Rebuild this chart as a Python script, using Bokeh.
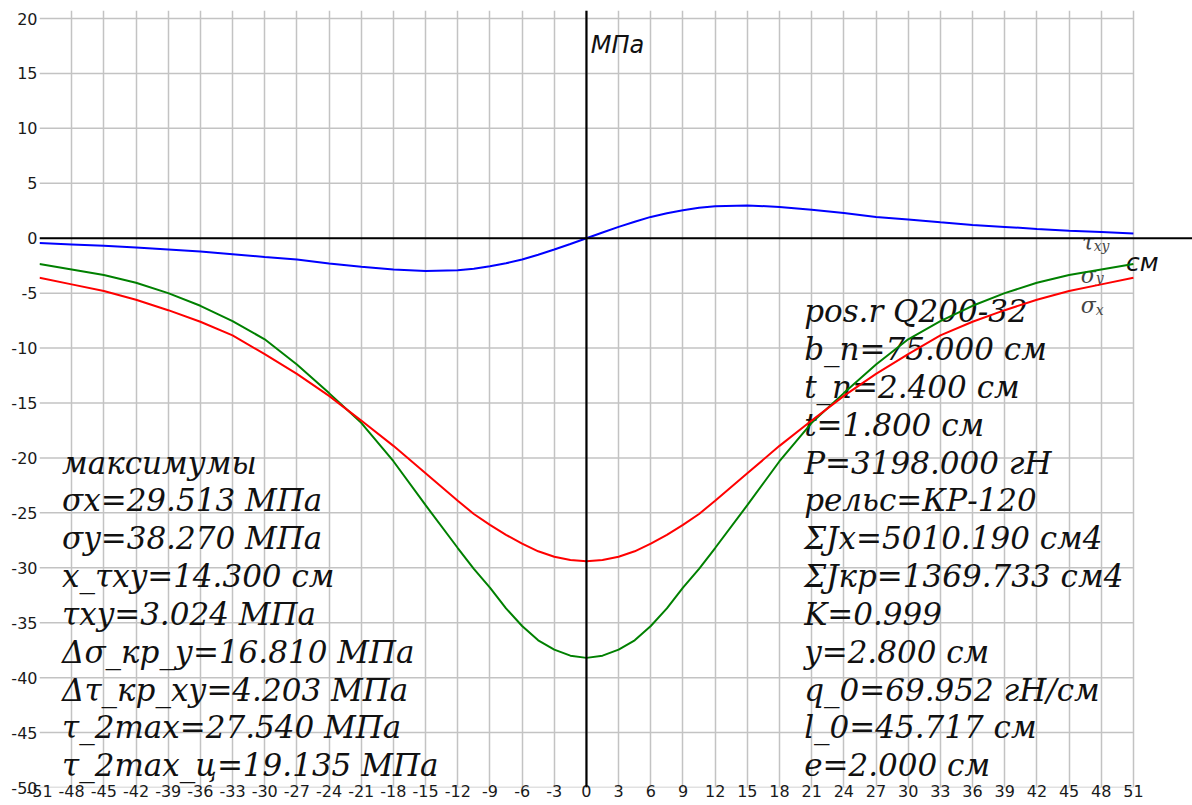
from bokeh.plotting import figure
from bokeh.models import Range1d, FixedTicker, Span
from bokeh.core.properties import value
from bokeh.embed import file_html
from bokeh.resources import INLINE

# ---------------- data ----------------
x_cm = [-51, -48, -45, -42, -39, -36, -33, -30, -27, -24, -21, -18, -15, -12,
        -10.5, -9, -7.5, -6, -4.5, -3, -1.5, 0, 1.5, 3, 4.5, 6, 7.5, 9, 10.5,
        12, 15, 18, 21, 24, 27, 30, 33, 36, 39, 42, 45, 48, 51]

tau_xy = [-0.43, -0.56, -0.69, -0.85, -1.03, -1.21, -1.45, -1.70, -1.94, -2.30, -2.60, -2.85, -2.99, -2.92,
          -2.78, -2.55, -2.28, -1.94, -1.50, -1.03, -0.52, 0.0, 0.52, 1.03, 1.50, 1.94, 2.28, 2.55, 2.78,
          2.92, 2.99, 2.85, 2.60, 2.30, 1.94, 1.70, 1.45, 1.21, 1.03, 0.85, 0.69, 0.56, 0.43]

sigma_x = [-3.6, -4.2, -4.8, -5.6, -6.55, -7.6, -8.85, -10.55, -12.35, -14.35, -16.6, -18.9, -21.4, -23.9,
           -25.1, -26.1, -27.0, -27.8, -28.5, -29.0, -29.3, -29.4, -29.3, -29.0, -28.5, -27.8, -27.0, -26.1, -25.1,
           -23.9, -21.4, -18.9, -16.6, -14.35, -12.35, -10.55, -8.85, -7.6, -6.55, -5.6, -4.8, -4.2, -3.6]

sigma_y = [-2.35, -2.85, -3.35, -4.05, -5.0, -6.15, -7.55, -9.2, -11.5, -14.1, -16.8, -20.3, -24.3, -28.2,
           -30.1, -31.8, -33.7, -35.3, -36.6, -37.45, -38.0, -38.2, -38.0, -37.45, -36.6, -35.3, -33.7, -31.8, -30.1,
           -28.2, -24.3, -20.3, -16.8, -14.1, -11.5, -9.2, -7.55, -6.15, -5.0, -4.05, -3.35, -2.85, -2.35]

x_ticks = [-51, -48, -45, -42, -39, -36, -33, -30, -27, -24, -21, -18, -15, -12, -9, -6, -3,
           0, 3, 6, 9, 12, 15, 18, 21, 24, 27, 30, 33, 36, 39, 42, 45, 48, 51]
y_ticks = [-50, -45, -40, -35, -30, -25, -20, -15, -10, -5, 0, 5, 10, 15, 20]

max_lines = [
    "максимумы",
    "σx=29.513 МПа",
    "σy=38.270 МПа",
    "x_τxy=14.300 см",
    "τxy=3.024 МПа",
    "Δσ_кр_у=16.810 МПа",
    "Δτ_кр_ху=4.203 МПа",
    "τ_2max=27.540 МПа",
    "τ_2max_ц=19.135 МПа",
]
param_lines = [
    "pos.r Q200-32",
    "b_n=75.000 см",
    "t_n=2.400 см",
    "t=1.800 см",
    "P=3198.000 гН",
    "рельс=КР-120",
    "ΣJx=5010.190 см4",
    "ΣJкр=1369.733 см4",
    "K=0.999",
    "y=2.800 см",
    "q_0=69.952 гН/см",
    "l_0=45.717 см",
    "e=2.000 см",
]
curve_symbols = ["τ", "σ", "σ"]
curve_subscripts = ["xy", "y", "x"]
y_unit = "МПа"
x_unit = "см"

# ---------------- figure ----------------
X_END = 56.51
Y_END = 20.73
GRID = "#c3c3c3"

p = figure(width=1192, height=805,
           x_range=Range1d(x_ticks[0], X_END), y_range=Range1d(y_ticks[0], Y_END),
           output_backend="svg", toolbar_location=None,
           min_border_left=39, min_border_right=0, min_border_top=10, min_border_bottom=18)
p.outline_line_color = None
p.background_fill_color = "white"
p.border_fill_color = "white"

p.xaxis.ticker = FixedTicker(ticks=x_ticks)
p.yaxis.ticker = FixedTicker(ticks=y_ticks)
p.xaxis.major_label_overrides = {t: str(t) for t in x_ticks}
p.yaxis.major_label_overrides = {t: str(t) for t in y_ticks}
for ax in (p.xaxis[0], p.yaxis[0]):
    ax.axis_line_color = None
    ax.major_tick_line_color = None
    ax.minor_tick_line_color = None
    ax.major_tick_out = 0
    ax.major_tick_in = 0
    ax.major_label_text_font = "DejaVu Sans"
    ax.major_label_text_font_size = "16px"
    ax.major_label_text_color = "#1a1a1a"
p.xaxis.major_label_standoff = -3
p.yaxis.major_label_standoff = 2

p.xgrid.ticker = FixedTicker(ticks=x_ticks)
p.xgrid.grid_line_color = GRID
p.xgrid.grid_line_width = 1.5
p.ygrid.visible = False

# horizontal grid lines limited to the tick span
n = len(y_ticks)
p.segment(x0=[x_ticks[0]] * n, y0=y_ticks, x1=[x_ticks[-1]] * n, y1=y_ticks,
          line_color=GRID, line_width=1.5)

# ---------------- text blocks ----------------
LINE0 = -6.636
STEP = 3.445
p.text(x=[20.3] * len(param_lines), y=[LINE0 - STEP * i for i in range(len(param_lines))],
       text=param_lines, text_font=value("DejaVu Serif"), text_font_style="italic",
       text_font_size="31px", text_baseline="alphabetic", text_align="left", text_color="#111111")
p.text(x=[-48.9] * len(max_lines), y=[LINE0 - STEP * (i + 4) for i in range(len(max_lines))],
       text=max_lines, text_font=value("DejaVu Serif"), text_font_style="italic",
       text_font_size="31px", text_baseline="alphabetic", text_align="left", text_color="#111111")

# units
p.text(x=[0.4], y=[17.55], text=[y_unit], text_font=value("DejaVu Sans"), text_font_style="italic",
       text_font_size="24px", text_baseline="alphabetic", text_color="#111111")
p.text(x=[50.3], y=[-2.18], text=[x_unit], text_font=value("DejaVu Sans"), text_font_style="italic",
       text_font_size="25px", text_baseline="alphabetic", text_color="#111111")

# curve labels (symbol + subscript)
p.text(x=[46.2, 46.1, 46.1], y=[-0.36, -3.36, -6.09], text=curve_symbols,
       text_font=value("DejaVu Serif"), text_font_style="italic", text_font_size="22px",
       text_baseline="alphabetic", text_color="#444444")
p.text(x=[47.3, 47.5, 47.5], y=[-0.70, -3.60, -6.55], text=curve_subscripts,
       text_font=value("DejaVu Serif"), text_font_style="italic", text_font_size="14px",
       text_baseline="alphabetic", text_color="#444444")

# ---------------- curves ----------------
p.line(x_cm, tau_xy, line_color="#0000ff", line_width=2)
p.line(x_cm, sigma_y, line_color="#008000", line_width=2)
p.line(x_cm, sigma_x, line_color="#ff0000", line_width=2)

# ---------------- axes through origin ----------------
p.add_layout(Span(location=0, dimension="width", line_color="black", line_width=2.2))
p.add_layout(Span(location=0, dimension="height", line_color="black", line_width=2.2))

open("out.html", "w").write(file_html(p, INLINE, title="chart"))
